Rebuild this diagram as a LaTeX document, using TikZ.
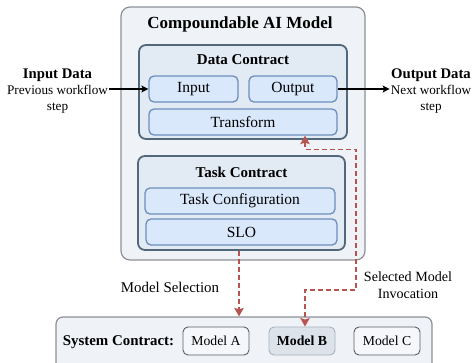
\documentclass[tikz,border=0pt]{standalone}
\usepackage{fontspec}
\setmainfont{Liberation Serif}
\usetikzlibrary{arrows.meta}

\definecolor{outerfill}{HTML}{EFF2F7}
\definecolor{outerline}{HTML}{8C9096}
\definecolor{contractfill}{HTML}{E2EAF4}
\definecolor{contractline}{HTML}{52687A}
\definecolor{partfill}{HTML}{DAE8FC}
\definecolor{partline}{HTML}{6C8EBF}
\definecolor{modelfill}{HTML}{F5F7FA}
\definecolor{modelline}{HTML}{5A5E63}
\definecolor{pickfill}{HTML}{DCE3EB}
\definecolor{pickline}{HTML}{A9B1BA}
\definecolor{callred}{HTML}{B85450}

\begin{document}
\begin{tikzpicture}[x=1pt, y=1pt,
        bigbox/.style={draw=outerline, fill=outerfill, line width=1.2pt, rounded corners=9pt, inner sep=0},
        contractbox/.style={draw=contractline, fill=contractfill, line width=1.8pt, rounded corners=7pt, inner sep=0},
        partbox/.style={draw=partline, fill=partfill, line width=1.3pt, rounded corners=5pt, inner sep=0, minimum height=26, font=\fontsize{15.5}{18}\selectfont},
        modelbox/.style={draw=modelline, fill=modelfill, line width=0.9pt, rounded corners=5pt, inner sep=0, minimum width=66, minimum height=28, font=\fontsize{13.7}{16}\selectfont},
        boxtitle/.style={font=\bfseries\fontsize{15}{18}\selectfont},
        flow/.style={line width=1.1pt, -{Stealth[length=7pt,width=7pt,inset=1.5pt]}},
        call/.style={draw=callred, line width=1.6pt, dash pattern=on 5pt off 3pt},
        calltip/.tip={Stealth[length=8.5pt,width=9.5pt,inset=1.5pt,fill=callred]}]
        \useasboundingbox (0,0) rectangle (474,-362);

        % compoundable model and its two contracts
        \node[bigbox, minimum width=244, minimum height=253] (aimodel) at (243,-133.5) {};
        \node[font=\bfseries\fontsize{17}{20}\selectfont] (aititle) at (240,-24) {Compoundable AI Model};

        \node[contractbox, minimum width=208, minimum height=94] (datac) at (243,-92) {};
        \node[boxtitle] (datactitle) at (243,-60) {Data Contract};
        \node[partbox, minimum width=89] (input) at (193.5,-89) {Input};
        \node[partbox, minimum width=88] (output) at (293,-89) {Output};
        \node[partbox, minimum width=188] (transform) at (243,-122) {Transform};

        \node[contractbox, minimum width=207, minimum height=94] (taskc) at (241.5,-203) {};
        \node[boxtitle] (taskctitle) at (241.5,-172) {Task Contract};
        \node[partbox, minimum width=190] (taskconf) at (240,-201) {Task Configuration};
        \node[partbox, minimum width=191] (slo) at (241.5,-232) {SLO};

        % system contract
        \node[bigbox, rounded corners=7pt, minimum width=376, minimum height=56] (sysc) at (244,-345) {};
        \node[font=\bfseries\fontsize{14.9}{17}\selectfont] (sysctitle) at (118.5,-342) {System Contract:};
        \node[modelbox] (modelA) at (216,-341) {Model A};
        \node[modelbox, draw=pickline, fill=pickfill, font=\bfseries\fontsize{13.8}{16}\selectfont] (modelB) at (302,-341) {Model B};
        \node[modelbox] (modelC) at (387,-341) {Model C};

        % workflow in and out
        \node[align=center, inner sep=1pt, font=\fontsize{13.2}{16}\selectfont] (indata) at (57.5,-91.5) {{\bfseries\fontsize{14.7}{16}\selectfont Input Data}\\Previous workflow\\step};
        \node[align=center, inner sep=1pt, font=\fontsize{13.2}{16}\selectfont] (outdata) at (431,-91.5) {{\bfseries\fontsize{14.7}{16}\selectfont Output Data}\\Next workflow\\step};
        \draw[flow] (indata.east |- input.west) -- (input.west);
        \draw[flow] (output.east) -- (output.east -| outdata.west);

        % selection and invocation
        \coordinate (invturn) at (356,-290);
        \draw[call, -calltip] ([xshift=-2.5]taskc.south) -- ([xshift=-2.5]taskc.south |- sysc.north);
        \node[font=\fontsize{14.9}{17}\selectfont] (selectlbl) at (170,-287) {Model Selection};
        \draw[call, calltip-calltip] ([xshift=3]modelB.north |- transform.south) -- ++(0,-14) -| (invturn) -| ([xshift=3]modelB.north);
        \node[align=center, font=\fontsize{14.1}{17}\selectfont] (invlbl) at (408,-285.5) {Selected Model\\Invocation};
\end{tikzpicture}
\end{document}
